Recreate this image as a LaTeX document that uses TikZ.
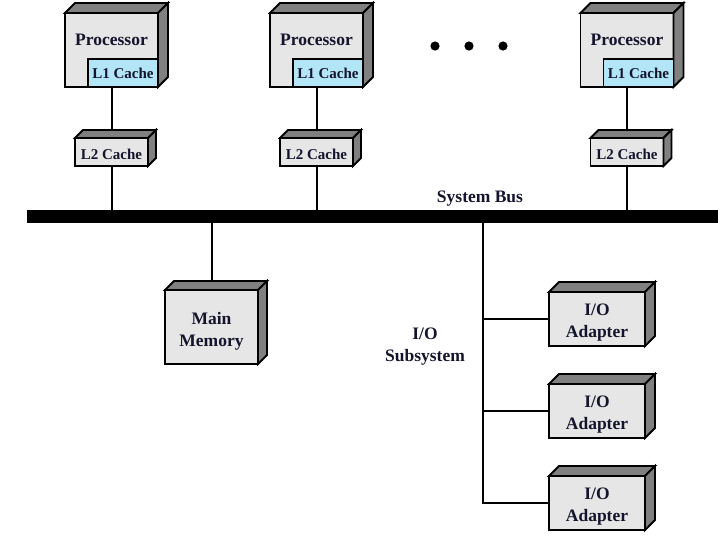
\documentclass[tikz,border=0pt]{standalone}
\usepackage{fontspec}
\setmainfont{Liberation Serif}
\usetikzlibrary{calc}
\pgfdeclarelayer{bg}
\pgfsetlayers{bg,main}
\definecolor{frontgray}{RGB}{230,230,230}
\definecolor{darkgray}{RGB}{128,128,128}
\definecolor{lonecol}{RGB}{178,230,246}
\definecolor{ink}{RGB}{20,20,45}
\tikzset{
 face/.style={fill=darkgray, draw=black, line width=1.8pt, line join=miter},
 frontbox/.style={draw=black, fill=frontgray, line width=1.8pt, inner sep=0pt, outer sep=0pt, text=ink, font=\bfseries\fontsize{17.5}{22}\selectfont, align=center},
 cachebox/.style={frontbox, font=\bfseries\fontsize{15}{18}\selectfont},
 procbox/.style={frontbox, minimum width=93pt, minimum height=74pt},
 lonebox/.style={cachebox, fill=lonecol, minimum width=70pt, minimum height=28pt, anchor=south east},
 ltwobox/.style={cachebox, minimum width=73pt, minimum height=28pt},
 membox/.style={frontbox, minimum width=93pt, minimum height=74pt},
 iobox/.style={frontbox, minimum width=96pt, minimum height=54pt},
 boxtext/.style={label={[lbl,yshift=-4pt]center:#1}},
 wire/.style={line width=2pt},
 buswire/.style={line width=13pt},
 lbl/.style={text=ink, font=\bfseries\fontsize{17.5}{22}\selectfont, align=center, inner sep=0pt},
}
\newcommand\threed[2]{%
 \draw[face] (#1.north west) -- ($(#1.north west)+(#2,-#2)$) -- ($(#1.north east)+(#2,-#2)$) -- (#1.north east) -- cycle;
 \draw[face] (#1.north east) -- ($(#1.north east)+(#2,-#2)$) -- ($(#1.south east)+(#2,-#2)$) -- (#1.south east) -- cycle;}
\begin{document}
\begin{tikzpicture}[x=1pt,y=-1pt]
\useasboundingbox (0,0) rectangle (718,539);
% processors
\foreach \n/\x in {1/111.5,2/316.5,3/627}{
  \node[procbox] (p\n) at (\x,50) {};
  \threed{p\n}{10}
  \node[lbl] (pt\n) at ($(p\n.center)+(0,-10)$) {Processor};
  \node[lonebox] (la\n) at (p\n.south east) {L1 Cache};
  \node[ltwobox] (lb\n) at (\x,152) {};
  \node[lbl, font=\bfseries\fontsize{15}{18}\selectfont] (lbt\n) at ($(lb\n.center)+(0,2)$) {L2 Cache};
  \threed{lb\n}{8}
}
% dots
\foreach \x in {435,469,503}{\fill[black] (\x,46) circle (4.6pt);}
% bus
\coordinate (busL) at (27,216.5);
\coordinate (busR) at (718,216.5);
\coordinate (iot) at (483,216.5);
\node[lbl] (buslbl) at (480,199) {System Bus};
% main memory
\node[membox, boxtext={Main\\Memory}] (mm) at (211.5,327) {};
\threed{mm}{9}
% I/O
\node[lbl] (iolbl) at (425,347) {I/O\\Subsystem};
\foreach \n/\y in {1/319,2/411,3/503}{
  \node[iobox, boxtext={I/O\\Adapter}] (io\n) at (597,\y) {};
  \threed{io\n}{10}
}
\begin{pgfonlayer}{bg}
  \foreach \n in {1,2,3}{
    \draw[wire] (p\n.south) -- (lb\n.north);
    \draw[wire] (lb\n.south) -- (lb\n.south |- busL);
  }
  \draw[buswire] (busL) -- (busR);
  \draw[wire] (mm.north |- busL) -- (mm.north);
  \draw[wire] (iot) -- (iot |- io3.west) -- (io3.west);
  \draw[wire] (iot |- io1.west) -- (io1.west);
  \draw[wire] (iot |- io2.west) -- (io2.west);
\end{pgfonlayer}
\end{tikzpicture}
\end{document}
